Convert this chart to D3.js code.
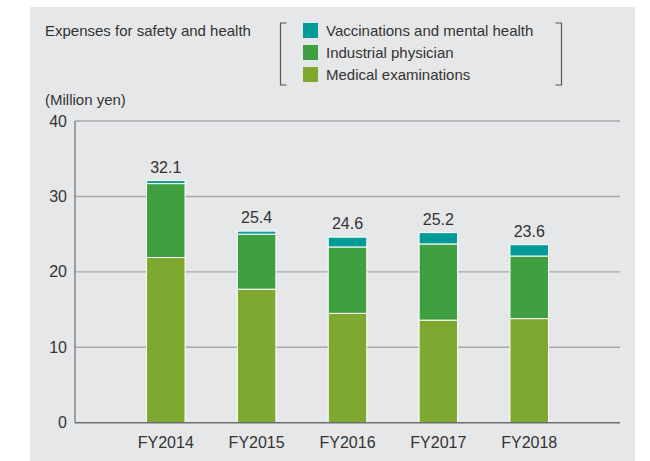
<!DOCTYPE html>
<html>
<head>
<meta charset="utf-8">
<script src="https://cdn.jsdelivr.net/npm/d3@7"></script>
<style>
  html, body { margin: 0; padding: 0; background: #fff; }
  svg { display: block; font-family: "Liberation Sans", Arial, sans-serif; }
</style>
</head>
<body>
<svg id="chart" width="650" height="461"></svg>
<script>
const categories = ["FY2014", "FY2015", "FY2016", "FY2017", "FY2018"];
const medical = [21.9, 17.7, 14.5, 13.6, 13.8];
const physician = [9.8, 7.3, 8.8, 10.1, 8.3];
const vaccination = [0.4, 0.4, 1.3, 1.5, 1.5];
const totalLabels = ["32.1", "25.4", "24.6", "25.2", "23.6"];
const yTicks = [0, 10, 20, 30, 40];
const seriesNames = ["Medical examinations", "Industrial physician", "Vaccinations and mental health"];
const seriesColors = ["#7ea830", "#40a041", "#009a98"];

const svg = d3.select("#chart");
svg.append("rect").attr("x", 30).attr("y", 7).attr("width", 605).attr("height", 454).attr("fill", "#e6e7e8");

const x = d3.scaleBand().domain(categories).range([75, 620]).paddingInner(0.576).paddingOuter(0.787);
const y = d3.scaleLinear().domain([0, 40]).range([422.7, 121]);

// gridlines
svg.append("g").selectAll("line").data(yTicks.filter(d => d > 0)).join("line")
  .attr("x1", 75).attr("x2", 620)
  .attr("y1", d => y(d)).attr("y2", d => y(d))
  .attr("stroke", "#a7a9ac").attr("stroke-width", 1.4);

// y axis labels
const yAxis = d3.axisLeft(y).tickValues(yTicks).tickSize(0).tickPadding(8);
const ya = svg.append("g").attr("transform", "translate(75,0)").call(yAxis);
ya.select(".domain").remove();
ya.selectAll("text").attr("font-size", 16).attr("fill", "#333").attr("font-family", "Liberation Sans, Arial, sans-serif");

// stacked bars
const data = categories.map((c, i) => ({cat: c, m: medical[i], p: physician[i], v: vaccination[i]}));
const stack = d3.stack().keys(["m", "p", "v"])(data);
svg.append("g").selectAll("g").data(stack).join("g")
  .attr("fill", (d, i) => seriesColors[i])
  .selectAll("rect").data(d => d).join("rect")
  .attr("x", d => x(d.data.cat))
  .attr("width", x.bandwidth())
  .attr("y", d => y(d[1]))
  .attr("height", d => y(d[0]) - y(d[1]))
  .attr("stroke", "#ffffff").attr("stroke-width", 1);

// total labels
svg.append("g").selectAll("text").data(data).join("text")
  .attr("x", d => x(d.cat) + x.bandwidth() / 2)
  .attr("y", (d, i) => y(d.m + d.p + d.v) - 8)
  .attr("text-anchor", "middle").attr("font-size", 16).attr("fill", "#333")
  .text((d, i) => totalLabels[i]);

// axes lines
svg.append("line").attr("x1", 75).attr("x2", 75).attr("y1", y(40)).attr("y2", y(0))
  .attr("stroke", "#6d6e71").attr("stroke-width", 1.2);
const xAxis = d3.axisBottom(x).tickSize(0).tickPadding(14);
const xa = svg.append("g").attr("transform", `translate(0,${y(0)})`).call(xAxis);
xa.select(".domain").remove();
xa.selectAll("text").attr("font-size", 16).attr("fill", "#333").attr("font-family", "Liberation Sans, Arial, sans-serif");
svg.append("line").attr("x1", 75).attr("x2", 620).attr("y1", y(0)).attr("y2", y(0))
  .attr("stroke", "#6d6e71").attr("stroke-width", 1.4);

// titles
svg.append("text").attr("x", 45).attr("y", 36).attr("font-size", 15).attr("fill", "#333")
  .text("Expenses for safety and health");
svg.append("text").attr("x", 45).attr("y", 105).attr("font-size", 15).attr("fill", "#333")
  .text("(Million yen)");

// legend
const legendOrder = [2, 1, 0];
const lg = svg.append("g");
legendOrder.forEach((si, row) => {
  const yy = 23 + row * 22;
  lg.append("rect").attr("x", 303).attr("y", yy).attr("width", 15).attr("height", 15).attr("fill", seriesColors[si]);
  lg.append("text").attr("x", 326).attr("y", yy + 13).attr("font-size", 15).attr("fill", "#333").text(seriesNames[si]);
});
// brackets
lg.append("path").attr("d", "M286.5,23 H280.5 V85 H286.5").attr("fill", "none").attr("stroke", "#555").attr("stroke-width", 1.2);
lg.append("path").attr("d", "M555.5,23 H561.5 V85 H555.5").attr("fill", "none").attr("stroke", "#555").attr("stroke-width", 1.2);
</script>
</body>
</html>
